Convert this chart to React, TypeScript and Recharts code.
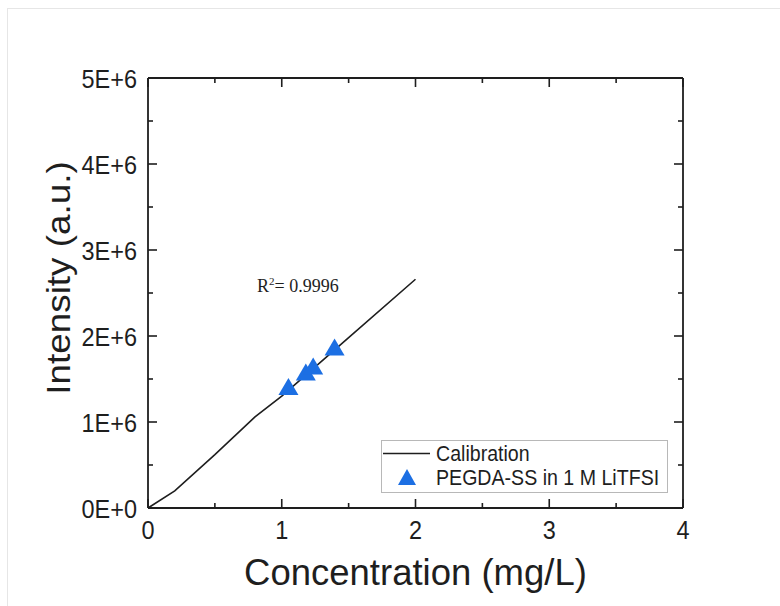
import React from "react";
import { ScatterChart, Scatter, XAxis, YAxis, Legend, ReferenceDot } from "recharts";

// calibration curve (mg/L vs intensity)
const calX = [0, 0.2, 0.5, 0.8, 1.0, 1.5, 2.0];
const calY = [0, 0.2e6, 0.62e6, 1.06e6, 1.3e6, 1.98e6, 2.66e6];

// PEGDA-SS in 1 M LiTFSI samples
const sampleX = [1.05, 1.18, 1.235, 1.395];
const sampleY = [1.4e6, 1.57e6, 1.64e6, 1.86e6];

const xTicks = [0, 0.5, 1, 1.5, 2, 2.5, 3, 3.5, 4];
const xMajor = [0, 1, 2, 3, 4];
const yTicks = [0, 0.5e6, 1e6, 1.5e6, 2e6, 2.5e6, 3e6, 3.5e6, 4e6, 4.5e6, 5e6];
const yMajor = [0, 1e6, 2e6, 3e6, 4e6, 5e6];

const seriesNames = ["Calibration", "PEGDA-SS in 1 M LiTFSI"];
const r2Value = "0.9996";
const r2Pos = { x: 0.815, y: 2.51e6 };

const INK = "#1e1e1e";
const BLUE = "#1c6fe3";
const SANS = "'Liberation Sans', Arial, sans-serif";
const SERIF = "'Liberation Serif', 'Times New Roman', serif";

const calData = calX.map((x, i) => ({ x, y: calY[i] }));
const sampleData = sampleX.map((x, i) => ({ x, y: sampleY[i] }));

const fmtY = (v: number) => (v === 0 ? "0E+0" : `${v / 1e6}E+6`);

// text a little taller than wide, as in the source image
const Stretched = ({ x, y, anchor, size, children }: any) => (
  <text
    transform={`translate(${x}, ${y}) scale(1, 1.12)`}
    textAnchor={anchor}
    fontSize={size}
    fill={INK}
    fontFamily={SANS}
  >
    {children}
  </text>
);

const BottomTick = (props: any) => {
  const { x, y, payload } = props;
  const major = xMajor.includes(payload.value);
  return (
    <g>
      <line x1={x} x2={x} y1={y} y2={y - (major ? 9 : 5)} stroke={INK} strokeWidth={1.6} />
      {major && (
        <Stretched x={x} y={y + 31} anchor="middle" size={23.5}>
          {payload.value}
        </Stretched>
      )}
    </g>
  );
};

const TopTick = (props: any) => {
  const { x, y, payload } = props;
  const major = xMajor.includes(payload.value);
  return <line x1={x} x2={x} y1={y} y2={y + (major ? 9 : 5)} stroke={INK} strokeWidth={1.6} />;
};

const LeftTick = (props: any) => {
  const { x, y, payload } = props;
  const major = yMajor.includes(payload.value);
  return (
    <g>
      <line x1={x} x2={x + (major ? 9 : 5)} y1={y} y2={y} stroke={INK} strokeWidth={1.6} />
      {major && (
        <Stretched x={x - 11} y={y + 9.5} anchor="end" size={23.5}>
          {fmtY(payload.value)}
        </Stretched>
      )}
    </g>
  );
};

const RightTick = (props: any) => {
  const { x, y, payload } = props;
  const major = yMajor.includes(payload.value);
  return <line x1={x} x2={x - (major ? 9 : 5)} y1={y} y2={y} stroke={INK} strokeWidth={1.6} />;
};

const XTitle = (props: any) => {
  const { x, y, width } = props.viewBox;
  return (
    <text x={x + width / 2} y={y + 77} textAnchor="middle" fontSize={36.5} fill={INK} fontFamily={SANS}>
      Concentration (mg/L)
    </text>
  );
};

const YTitle = (props: any) => {
  const { y, height } = props.viewBox;
  const cy = y + height / 2 - 15;
  return (
    <text
      transform={`translate(70, ${cy}) scale(1, 1.1) rotate(-90)`}
      textAnchor="middle"
      fontSize={33.5}
      fill={INK}
      fontFamily={SANS}
    >
      Intensity (a.u.)
    </text>
  );
};

const NoMark = () => <g />;

const Triangle = (props: any) => {
  const { cx, cy } = props;
  return <polygon points={`${cx},${cy - 9.5} ${cx + 10},${cy + 7.5} ${cx - 10},${cy + 7.5}`} fill={BLUE} />;
};

const R2Label = (props: any) => {
  const { cx, cy } = props;
  return (
    <text x={cx} y={cy} fontSize={18} fill={INK} fontFamily={SERIF}>
      R
      <tspan fontSize={11} dy={-7}>2</tspan>
      <tspan dy={7}>{`= ${r2Value}`}</tspan>
    </text>
  );
};

const LegendBox = () => (
  <div
    style={{
      width: 287,
      height: 53,
      boxSizing: "border-box",
      border: "1px solid #b8b8b8",
      background: "#fff",
    }}
  >
    <svg width={285} height={51} style={{ display: "block" }}>
      <line x1={1} x2={48} y1={12.5} y2={12.5} stroke={INK} strokeWidth={1.6} />
      <Stretched x={54} y={20} anchor="start" size={19.6}>
        {seriesNames[0]}
      </Stretched>
      <polygon points="25,28 34,44 16,44" fill={BLUE} />
      <Stretched x={54} y={44} anchor="start" size={19.6}>
        {seriesNames[1]}
      </Stretched>
    </svg>
  </div>
);

export default function App() {
  const axisLine = { stroke: INK, strokeWidth: 1.8 };
  return (
    <div style={{ position: "absolute", left: 0, top: 0, width: 780, height: 606, background: "#fff" }}>
      <div
        style={{
          position: "absolute",
          left: 7,
          top: 8,
          width: 773,
          height: 598,
          borderLeft: "1px solid #e6e6e6",
          borderTop: "1px solid #e6e6e6",
          boxSizing: "border-box",
        }}
      />
      <ScatterChart width={780} height={606} margin={{ top: 77, right: 96, bottom: 0, left: 0 }}>
        <XAxis
          xAxisId="bottom"
          orientation="bottom"
          type="number"
          dataKey="x"
          domain={[0, 4]}
          ticks={xTicks}
          interval={0}
          height={98}
          tickSize={0}
          tickMargin={0}
          tickLine={false}
          tick={<BottomTick />}
          axisLine={axisLine}
          label={XTitle}
        />
        <XAxis
          xAxisId="top"
          orientation="top"
          type="number"
          dataKey="x"
          domain={[0, 4]}
          ticks={xTicks}
          interval={0}
          height={1}
          tickSize={0}
          tickMargin={0}
          tickLine={false}
          tick={<TopTick />}
          axisLine={axisLine}
        />
        <YAxis
          yAxisId="left"
          orientation="left"
          type="number"
          dataKey="y"
          domain={[0, 5e6]}
          ticks={yTicks}
          interval={0}
          width={148}
          tickSize={0}
          tickMargin={0}
          tickLine={false}
          tick={<LeftTick />}
          axisLine={axisLine}
          label={YTitle}
        />
        <YAxis
          yAxisId="right"
          orientation="right"
          type="number"
          dataKey="y"
          domain={[0, 5e6]}
          ticks={yTicks}
          interval={0}
          width={1}
          tickSize={0}
          tickMargin={0}
          tickLine={false}
          tick={<RightTick />}
          axisLine={axisLine}
        />
        <Scatter
          name={seriesNames[0]}
          data={calData}
          xAxisId="top"
          yAxisId="right"
          line={{ stroke: INK, strokeWidth: 1.6 }}
          shape={NoMark}
          isAnimationActive={false}
        />
        <Scatter
          name={seriesNames[1]}
          data={sampleData}
          xAxisId="bottom"
          yAxisId="left"
          shape={Triangle}
          isAnimationActive={false}
        />
        <ReferenceDot
          xAxisId="bottom"
          yAxisId="left"
          x={r2Pos.x}
          y={r2Pos.y}
          r={0}
          shape={R2Label}
        />
        <Legend
          layout="vertical"
          align="center"
          verticalAlign="middle"
          wrapperStyle={{ left: 381, top: 440, width: 287, height: 53 }}
          content={() => <LegendBox />}
        />
      </ScatterChart>
    </div>
  );
}
